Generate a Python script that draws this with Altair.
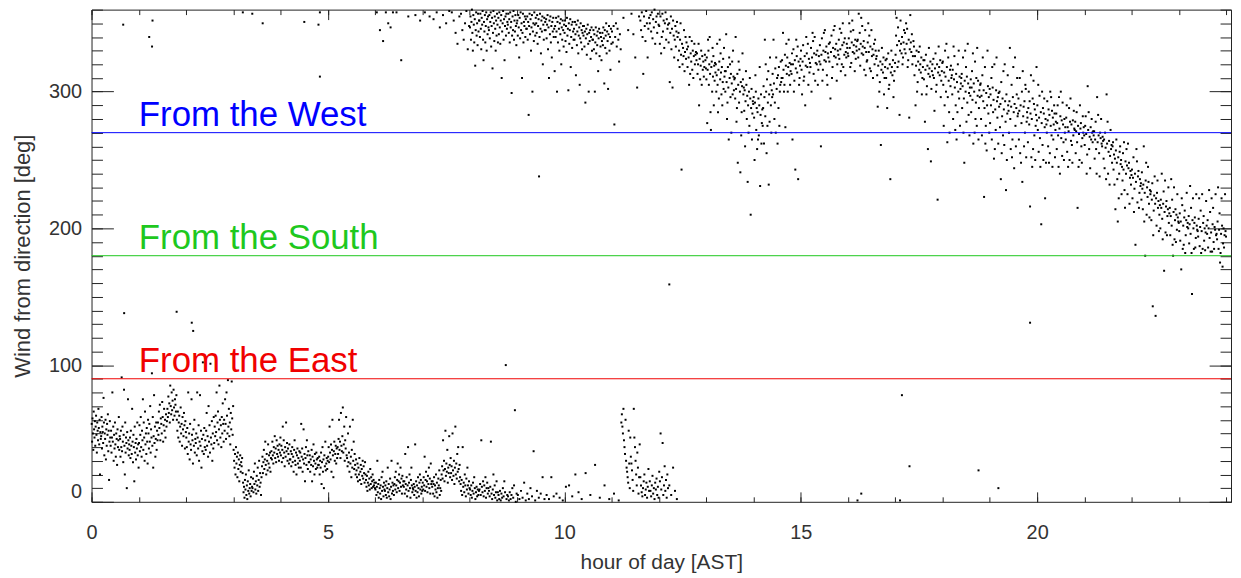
import altair as alt
import pandas as pd

# ---------------------------------------------------------------
# Data.  Each inner list holds the wind
# directions (deg) seen in one 0.2-hour slice of the day; the
# samples of a slice are taken as evenly spaced in time inside it.
# ---------------------------------------------------------------
BIN_HOURS = 0.2

# lower band (easterly / north-easterly winds), slices from 0.0 h
bottom_00_06 = [
    [57, 44, 61, 50, 38, 66, 53, 47, 59, 41, 55, 63, 49, 36, 58, 52, 45, 68, 54, 42, 60, 20, 51, 46],
    [48, 62, 39, 55, 51, 43, 76, 58, 34, 50, 46, 60, 31, 53, 41, 57, 49, 64, 37, 52, 16, 44, 59, 47],
    [41, 52, 36, 47, 80, 44, 55, 30, 49, 39, 58, 42, 33, 50, 46, 27, 53, 40, 45, 62, 38, 48],
    [46, 33, 52, 40, 91, 37, 55, 44, 29, 49, 82, 41, 20, 58, 36, 47, 43, 10, 51, 39, 75, 45, 34, 42],
    [38, 47, 32, 52, 41, 35, 68, 44, 29, 49, 40, 15, 55, 36, 43, 31, 46, 39, 58, 34, 42, 25],
    [43, 56, 37, 49, 62, 40, 33, 52, 45, 75, 38, 58, 47, 30, 66, 42, 50, 35, 54, 44, 28, 60],
    [50, 39, 57, 44, 70, 36, 53, 47, 94, 41, 62, 25, 48, 78, 43, 55, 33, 46, 58, 38, 52, 45],
    [58, 49, 66, 54, 71, 45, 61, 57, 50, 73, 62, 44, 56, 68, 52, 60, 47, 64, 55, 59],
    [68, 62, 77, 65, 72, 58, 85, 70, 64, 80, 67, 74, 60, 82, 69, 63, 75, 71, 66, 78],
    [60, 52, 66, 47, 58, 63, 44, 55, 69, 50, 57, 41, 62, 53, 48, 65, 56, 39, 59, 51],
    [47, 40, 54, 35, 80, 44, 50, 31, 57, 42, 38, 75, 49, 45, 28, 53, 41, 60, 36, 46],
    [43, 50, 34, 80, 47, 39, 56, 30, 44, 78, 41, 52, 25, 46, 37, 102, 49, 35, 54, 40],
    [45, 38, 52, 65, 41, 48, 33, 70, 44, 56, 36, 101, 47, 42, 59, 30, 50, 39, 62, 43],
    [55, 48, 63, 51, 80, 45, 58, 66, 42, 53, 85, 60, 47, 56, 40, 62, 50, 72, 57, 44],
    [60, 52, 75, 57, 46, 80, 63, 50, 89, 55, 68, 48, 58, 42, 65, 53, 88, 61, 49, 70],
    [38, 30, 25, 35, 20, 40, 28, 33, 18, 36, 24, 31, 15, 27, 34, 22, 29, 26, 32, 21],
    [14, 7, 11, 3, 16, 9, 20, 5, 12, 2, 15, 8, 23, 6, 10, 13, 4, 18, 8, 11],
    [10, 17, 7, 22, 13, 28, 9, 15, 6, 19, 12, 25, 8, 16, 30, 11, 21, 14, 5, 18],
    [26, 33, 21, 29, 38, 24, 31, 44, 27, 20, 35, 30, 23, 42, 28, 34, 25, 36, 22, 32],
    [37, 31, 44, 34, 28, 40, 36, 48, 32, 39, 29, 45, 35, 41, 33, 38, 30, 42, 36, 47],
    [34, 41, 29, 38, 55, 32, 45, 36, 26, 40, 33, 58, 37, 43, 30, 39, 35, 28, 42, 31],
    [31, 37, 26, 35, 40, 29, 33, 22, 38, 45, 30, 27, 36, 20, 34, 39, 28, 32, 25, 37],
    [30, 36, 25, 57, 33, 39, 22, 31, 53, 28, 35, 15, 32, 40, 27, 45, 34, 24, 37, 29],
    [29, 34, 22, 31, 27, 38, 15, 33, 26, 42, 30, 20, 35, 28, 24, 36, 31, 25, 32, 27],
    [27, 33, 20, 30, 25, 36, 13, 29, 40, 22, 31, 10, 34, 26, 44, 23, 28, 32, 24, 30],
    [33, 40, 29, 55, 36, 31, 42, 22, 38, 60, 34, 18, 37, 44, 30, 35, 41, 28, 39, 32],
    [40, 35, 46, 60, 38, 44, 32, 65, 41, 37, 48, 69, 36, 42, 55, 30, 45, 39, 62, 34],
    [32, 26, 50, 29, 36, 22, 55, 28, 33, 18, 38, 25, 60, 30, 44, 24, 35, 27, 20, 31],
    [23, 18, 28, 15, 25, 20, 32, 16, 22, 27, 13, 24, 19, 30, 17, 26, 21, 14, 29, 20],
    [16, 11, 19, 8, 14, 22, 12, 17, 9, 24, 13, 18, 10, 15, 20, 11, 16, 12, 14, 10],
]

# lower band, slices from 6.0 h
bottom_06_12 = [
    [9, 14, 5, 11, 30, 7, 13, 3, 16, 10, 6, 12, 2, 18, 8, 22, 11, 4, 14, 9],
    [8, 12, 5, 15, 3, 10, 25, 7, 13, 4, 9, 17, 2, 11, 30, 6, 14, 8, 12, 5],
    [13, 18, 9, 22, 12, 7, 16, 28, 10, 15, 20, 8, 14, 25, 11, 17, 6, 19, 12, 15],
    [11, 15, 6, 35, 13, 9, 18, 4, 12, 40, 8, 14, 20, 10, 3, 16, 25, 12, 7, 10],
    [9, 13, 5, 11, 42, 8, 15, 3, 12, 7, 18, 10, 4, 14, 20, 9, 16, 6, 11, 8],
    [14, 9, 18, 12, 33, 8, 16, 22, 11, 15, 7, 19, 13, 25, 10, 17, 6, 28, 13, 15],
    [11, 15, 6, 13, 18, 4, 12, 9, 20, 7, 14, 3, 10, 17, 12, 23, 5, 10, 16, 8],
    [20, 26, 17, 45, 23, 30, 15, 24, 52, 19, 28, 22, 38, 14, 25, 21, 48, 27, 18, 32],
    [21, 26, 16, 50, 23, 19, 30, 13, 25, 55, 20, 28, 17, 35, 22, 40, 24, 15, 27, 18],
    [13, 8, 16, 5, 40, 11, 14, 7, 20, 12, 4, 17, 9, 25, 12, 6, 15, 10],
    [9, 5, 12, 3, 8, 14, 6, 18, 10, 2, 7, 11, 4, 9, 5, 8],
    [9, 13, 5, 45, 11, 7, 15, 4, 12, 8, 18, 3, 10, 14, 6, 10],
    [8, 4, 11, 44, 6, 2, 9, 20, 5, 12, 3, 7, 15, 1, 7],
    [5, 2, 8, 1, 6, 3, 10, 4, 15, 7, 100, 2, 5],
    [4, 1, 7, 2, 5, 10, 3, 12, 67, 0, 6],
    [5, 2, 8, 3, 14, 1],
    [6, 2, 10, 4, 37, 1],
    [8, 3, 6, 18, 2],
    [5, 2, 18, 4],
    [6, 3, 1],
    [11, 12, 4],
    [20, 7, 2],
    [21, 5],
    [27, 3],
    [12, 2],
    [6, 1],
    [58, 64, 55, 50, 68, 45, 40, 35, 60, 30, 25, 22, 18, 14, 52, 28, 10, 47],
    [33, 28, 23, 16, 8, 68, 47, 40, 30, 20, 12, 36, 25, 6, 18, 42],
    [18, 12, 7, 4, 10, 15, 20, 5, 9, 14, 3, 11, 24, 8],
    [15, 8, 4, 12, 19, 6, 10, 2, 14, 9, 17, 5, 11, 3],
    [22, 15, 50, 9, 18, 43, 5, 12, 26, 8, 16, 3, 20, 10],
    [12, 5, 25, 8, 2],
]

# upper band (northerly to westerly winds), slices from 6.0 h
top_06_12 = [
    [358, 345, 337],
    [358, 350, 347, 358],
    [358, 323],
    [355],
    [356, 352],
    [358, 355],
    [353, 358, 347],
    [356, 350, 359],
    [358, 352, 343, 335, 355],
    [357, 345, 338, 350, 359, 331, 348],
    [347, 355, 338, 351, 360, 343, 330, 356, 349, 336, 353, 319, 345, 358, 341, 350, 334, 357, 344, 352],
    [352, 340, 357, 346, 331, 354, 349, 359, 338, 323, 351, 344, 356, 336, 348, 358, 330, 353, 342, 355, 347],
    [345, 356, 339, 351, 358, 333, 348, 354, 317, 343, 359, 350, 337, 355, 346, 330, 352, 341, 357, 349, 336],
    [354, 342, 358, 347, 335, 352, 356, 310, 344, 350, 359, 338, 353, 323, 348, 355, 341, 357, 346, 351],
    [349, 357, 343, 353, 336, 358, 347, 351, 299, 341, 355, 345, 359, 338, 352, 344, 356, 348, 334, 350],
    [352, 341, 356, 347, 325, 354, 339, 358, 345, 350, 310, 343, 357, 336, 351, 348, 355, 340, 353, 346],
    [346, 355, 338, 351, 283, 348, 357, 342, 353, 330, 347, 356, 300, 344, 350, 337, 358, 349, 341, 354],
    [350, 343, 356, 335, 348, 353, 238, 340, 357, 346, 328, 352, 344, 355, 320, 349, 338, 354, 345, 351],
    [345, 353, 339, 349, 356, 331, 347, 310, 352, 342, 355, 336, 348, 325, 351, 344, 354, 340, 346, 315],
    [348, 340, 354, 344, 300, 351, 336, 355, 346, 330, 350, 342, 353, 320, 347, 338, 352, 345, 333, 349],
    [343, 352, 337, 348, 329, 354, 341, 346, 301, 350, 335, 345, 353, 318, 340, 349, 332, 351, 344, 338],
    [346, 338, 351, 342, 312, 349, 334, 344, 352, 328, 341, 347, 305, 339, 350, 336, 345, 331, 343, 348],
    [341, 348, 333, 344, 292, 339, 346, 327, 342, 349, 335, 300, 343, 337, 345, 324, 340, 347, 330, 338],
    [338, 345, 331, 342, 300, 336, 347, 328, 341, 334, 344, 315, 339, 346, 326, 343, 333, 340, 323, 337],
    [343, 334, 347, 339, 306, 345, 332, 341, 350, 328, 344, 337, 302, 342, 348, 330, 340, 316, 346, 335],
    [344, 336, 348, 276, 340, 350, 333, 346, 338, 322, 342, 331],
    [354, 345],
    [357, 342, 325, 303, 355],
    [352, 345, 358, 340, 313, 355, 348, 337, 359, 350, 325, 346, 354],
    [350, 356, 344, 358, 339, 353, 347, 360, 335, 351, 355, 343, 357, 349],
]

# upper band, slices from 12.0 h
top_12_18 = [
    [348, 335, 355, 328, 340, 357, 344, 352, 332, 350, 358, 338, 353, 346, 349],
    [336, 350, 307, 343, 355, 331, 346, 303, 352, 341, 325, 338, 348, 333, 344, 351, 340],
    [323, 343, 330, 318, 338, 350, 327, 243, 335, 320, 332, 326, 345, 315, 329, 340, 324, 336, 331],
    [318, 333, 325, 305, 340, 313, 328, 322, 337, 316, 330, 310, 326, 335, 320, 327, 329, 323],
    [328, 313, 320, 335, 290, 324, 309, 319, 330, 305, 326, 316, 322, 311, 318, 327, 323, 317],
    [309, 325, 277, 316, 338, 330, 305, 320, 340, 313, 285, 272, 318, 322, 300, 332, 311, 326, 290, 319, 308, 321, 314],
    [320, 300, 312, 335, 305, 285, 316, 295, 322, 338, 309, 328, 314, 298, 318, 290, 307, 324, 302, 332, 311, 315],
    [300, 315, 342, 307, 280, 292, 318, 303, 265, 325, 310, 320, 296, 313, 270, 306, 322, 298, 330, 311, 301, 309],
    [310, 295, 340, 302, 278, 288, 313, 248, 305, 322, 292, 316, 300, 241, 307, 268, 285, 304, 328, 309, 298, 303],
    [286, 301, 260, 293, 315, 305, 280, 297, 234, 290, 270, 300, 275, 310, 295, 210, 288, 302, 265, 284, 293, 291],
    [296, 281, 250, 292, 312, 300, 272, 288, 258, 285, 265, 295, 268, 290, 318, 231, 283, 298, 262, 277, 287, 275],
    [288, 304, 262, 296, 338, 282, 320, 300, 255, 309, 275, 292, 315, 232, 298, 278, 325, 305, 290, 270, 301, 296],
    [313, 298, 338, 306, 280, 292, 317, 270, 325, 302, 310, 262, 312, 288, 318, 275, 300, 305, 322, 307, 310],
    [323, 310, 343, 316, 300, 305, 327, 274, 319, 335, 313, 325, 300, 318, 338, 312, 321, 305, 315, 320],
    [313, 328, 265, 320, 331, 300, 308, 323, 243, 317, 338, 326, 314, 333, 236, 322, 305, 310, 319, 324],
    [330, 316, 298, 322, 334, 308, 311, 326, 290, 319, 340, 328, 318, 335, 305, 324, 314, 321],
    [318, 332, 300, 325, 343, 337, 313, 328, 340, 308, 321, 327, 320, 330, 305, 316, 326, 322],
    [334, 320, 260, 327, 339, 308, 316, 330, 343, 323, 345, 329, 322, 333, 312, 305, 328, 325, 335],
    [322, 336, 295, 329, 341, 310, 318, 332, 345, 326, 348, 331, 325, 335, 308, 320, 330, 327],
    [338, 324, 346, 331, 315, 343, 320, 334, 350, 318, 336, 327, 339, 312, 329, 325, 335, 332, 328],
    [326, 339, 350, 332, 318, 344, 321, 336, 352, 329, 345, 334, 328, 315, 338, 324, 333, 330, 337],
    [338, 325, 357, 331, 343, 319, 335, 354, 328, 348, 333, 327, 337, 316, 332, 345, 312, 329, 322],
    [323, 336, 350, 329, 341, 317, 333, 315, 345, 326, 331, 310, 327, 335, 320, 338, 330, 324],
    [326, 312, 289, 319, 330, 300, 307, 322, 261, 316, 332, 320, 314, 325, 298, 310, 318, 323],
    [310, 324, 288, 317, 328, 302, 305, 320, 236, 314, 330, 318, 312, 323, 296, 308, 315, 321],
    [327, 341, 354, 334, 318, 347, 322, 337, 283, 330, 352, 335, 328, 340, 320, 325, 336, 345, 331],
    [343, 328, 350, 335, 346, 318, 323, 338, 281, 331, 356, 336, 329, 342, 320, 326, 337, 333],
    [312, 326, 290, 319, 330, 300, 307, 322, 329, 316, 333, 320, 314, 325, 298, 310, 318, 323],
    [309, 323, 278, 316, 327, 298, 304, 319, 258, 313, 332, 317, 311, 322, 249, 302, 315, 320, 312],
    [324, 310, 286, 317, 328, 300, 305, 320, 221, 314, 333, 318, 312, 323, 296, 308, 315, 321],
]

# upper band, slices from 18.0 h
top_18_24 = [
    [322, 305, 275, 314, 290, 330, 311, 300, 335, 318, 263, 296, 325, 308, 285, 270, 316, 304, 319, 310, 312],
    [298, 316, 280, 333, 309, 326, 303, 272, 290, 313, 265, 307, 285, 320, 300, 330, 295, 311, 275, 302, 306, 310],
    [313, 288, 304, 325, 270, 295, 248, 308, 330, 300, 318, 278, 311, 292, 335, 306, 283, 299, 268, 303, 297, 309],
    [285, 303, 315, 294, 328, 262, 306, 300, 270, 322, 280, 292, 310, 275, 332, 297, 308, 265, 288, 301, 296, 305],
    [306, 280, 297, 268, 312, 325, 293, 301, 223, 288, 318, 262, 275, 299, 257, 290, 330, 304, 284, 296, 270, 302],
    [277, 298, 290, 310, 265, 318, 303, 285, 294, 251, 320, 258, 287, 272, 301, 325, 293, 281, 296, 262, 299, 289],
    [300, 274, 291, 236, 307, 255, 282, 295, 268, 315, 287, 261, 320, 293, 278, 228, 298, 250, 284, 312, 290, 286],
    [270, 293, 332, 280, 258, 289, 305, 252, 265, 296, 318, 285, 244, 291, 325, 275, 260, 288, 298, 310, 282, 284],
    [295, 265, 286, 310, 255, 290, 248, 277, 300, 234, 315, 282, 289, 260, 293, 270, 305, 302, 252, 278, 285, 281],
    [263, 288, 300, 276, 293, 216, 284, 312, 252, 280, 245, 295, 258, 308, 291, 268, 287, 250, 275, 283, 318, 279],
    [290, 272, 305, 256, 281, 297, 266, 245, 285, 203, 277, 300, 261, 288, 250, 284, 295, 274, 222, 280, 248, 276],
    [270, 293, 279, 260, 287, 248, 283, 255, 300, 275, 296, 268, 286, 245, 281, 265, 276, 290, 284, 252, 272, 278],
    [284, 258, 277, 290, 268, 245, 296, 273, 240, 282, 300, 266, 279, 253, 292, 276, 263, 250, 280, 270, 274],
    [265, 281, 290, 256, 274, 245, 271, 288, 250, 278, 295, 264, 276, 261, 248, 279, 268, 286, 273, 272],
    [278, 255, 271, 285, 263, 215, 275, 245, 269, 250, 290, 273, 277, 260, 248, 266, 282, 270, 274, 268],
    [261, 275, 282, 269, 240, 254, 304, 272, 285, 258, 267, 244, 274, 265, 280, 270, 263, 271, 268],
    [271, 251, 265, 278, 258, 240, 296, 263, 283, 268, 255, 238, 270, 266, 280, 262, 260, 267, 264],
    [251, 265, 244, 270, 259, 236, 298, 262, 278, 240, 256, 264, 232, 253, 272, 258, 261, 248, 260],
    [263, 243, 254, 232, 251, 214, 257, 265, 248, 236, 205, 252, 222, 240, 256, 260, 247, 250, 225, 245],
    [235, 255, 243, 263, 228, 215, 249, 240, 258, 246, 225, 262, 244, 248, 218, 237, 242, 232, 239],
    [243, 222, 237, 252, 212, 229, 240, 188, 234, 258, 249, 219, 238, 242, 215, 226, 236, 231, 233],
    [221, 241, 229, 214, 232, 260, 205, 226, 180, 235, 248, 210, 230, 223, 245, 234, 218, 208, 228, 225],
    [227, 206, 221, 233, 143, 195, 213, 224, 238, 218, 136, 222, 202, 226, 235, 215, 220, 198, 210, 217],
    [200, 221, 215, 240, 207, 192, 218, 227, 169, 212, 235, 197, 216, 220, 195, 209, 214, 230, 204, 211],
    [215, 195, 209, 236, 202, 221, 188, 180, 212, 230, 192, 206, 214, 190, 210, 199, 225, 208, 205, 204],
    [198, 211, 191, 205, 170, 222, 217, 185, 202, 188, 208, 213, 182, 195, 206, 226, 201, 204, 200],
    [209, 189, 203, 231, 196, 215, 182, 152, 206, 222, 200, 185, 204, 208, 186, 193, 225, 202, 199, 198],
    [194, 207, 222, 187, 201, 213, 182, 198, 225, 185, 204, 209, 191, 200, 184, 197, 220, 202, 196],
    [206, 186, 200, 228, 193, 212, 183, 197, 222, 183, 203, 215, 190, 185, 201, 199, 225, 195, 196],
    [192, 205, 230, 185, 199, 211, 175, 182, 196, 222, 202, 172, 189, 200, 186, 195, 225, 198, 194],
]

# isolated samples read individually
outlier_hour = [0.69, 1.80, 2.12, 2.15, 12.22, 17.14, 17.30, 18.76, 19.18, 16.28,
                16.20, 17.10, 19.85, 0.67, 1.29, 1.22, 1.28, 3.20, 3.40, 3.62,
                4.50, 4.80, 4.83, 4.83]
outlier_deg = [138, 139, 131, 125, 159, 78, 26, 23, 10, 6,
               1, 1, 131, 349, 352, 340, 333, 358, 357, 350,
               351, 349, 358, 311]

# reference directions
line_names = ["From the West", "From the South", "From the East"]
line_deg = [270, 180, 90]
line_colors = ["#0000ff", "#1ec81e", "#f00000"]
label_hour = 1.0

# axis ranges and ticks
x_domain = [0, 24.1]
y_domain = [0, 360]
x_major = [0, 5, 10, 15, 20]
x_minor = list(range(0, 25))
y_major = [0, 100, 200, 300]
y_minor = list(range(0, 361, 10))

FONT = "Liberation Sans"
INK = "#222222"
TEXT = "#333333"


def expand(bins, start):
    rows = []
    for i, vals in enumerate(bins):
        t0 = start + i * BIN_HOURS
        n = len(vals)
        for j, v in enumerate(vals):
            rows.append({"hour": t0 + (j + 0.5) * BIN_HOURS / n, "deg": v})
    return rows


rows = (expand(bottom_00_06, 0.0) + expand(bottom_06_12, 6.0)
        + expand(top_06_12, 6.0) + expand(top_12_18, 12.0) + expand(top_18_24, 18.0))
rows += [{"hour": h, "deg": d} for h, d in zip(outlier_hour, outlier_deg)]
points_df = pd.DataFrame(rows)

lines_df = pd.DataFrame({
    "name": line_names,
    "deg": line_deg,
    "x0": [x_domain[0]] * 3,
    "x1": [x_domain[1]] * 3,
    "tx": [label_hour] * 3,
})

xs = alt.Scale(domain=x_domain, nice=False, zero=False)
ys = alt.Scale(domain=y_domain, nice=False, zero=False)


def tick_axis(orient, values, size):
    return alt.Axis(orient=orient, values=values, offset=-size, tickSize=size,
                    ticks=True, labels=False, domain=False, grid=False,
                    title=None, tickColor=INK, tickWidth=1)


x_label_axis = alt.Axis(orient="bottom", values=x_major, ticks=False, tickSize=0,
                        domain=False, grid=False, labelFlush=False, labelPadding=21,
                        labelFontSize=20, labelColor=TEXT, labelFont=FONT,
                        title="hour of day [AST]", titleFontSize=21, titleColor=TEXT,
                        titleFont=FONT, titleFontWeight="normal", titlePadding=9)
y_label_axis = alt.Axis(orient="left", values=y_major, ticks=False, tickSize=0,
                        domain=False, grid=False, labelFlush=True, labelPadding=10,
                        labelFontSize=20, labelColor=TEXT, labelFont=FONT,
                        title="Wind from direction [deg]", titleFontSize=22,
                        titleColor=TEXT, titleFont=FONT, titleFontWeight="normal",
                        titlePadding=14)

points = alt.Chart(points_df).mark_square(size=4, color="black", opacity=1).encode(
    x=alt.X("hour:Q", scale=xs, axis=x_label_axis),
    y=alt.Y("deg:Q", scale=ys, axis=y_label_axis),
)

axis_pairs = [
    (tick_axis("bottom", x_minor, 5), tick_axis("left", y_minor, 11)),
    (tick_axis("bottom", x_major, 10), tick_axis("left", y_major, 22)),
    (tick_axis("top", x_minor, 5), tick_axis("right", y_minor, 11)),
]

layers = [points]
for i in range(3):
    ax_x, ax_y = axis_pairs[i]
    layers.append(
        alt.Chart(lines_df.iloc[[i]]).mark_rule(color=line_colors[i], strokeWidth=1).encode(
            x=alt.X("x0:Q", scale=xs, axis=ax_x),
            x2="x1:Q",
            y=alt.Y("deg:Q", scale=ys, axis=ax_y),
        )
    )

text_axes = [
    (tick_axis("top", x_major, 10), tick_axis("right", y_major, 22)),
    (None, None),
    (None, None),
]
for i in range(3):
    ax_x, ax_y = text_axes[i]
    xenc = alt.X("tx:Q", scale=xs, axis=ax_x) if ax_x is not None else alt.X("tx:Q", scale=xs, axis=None)
    yenc = alt.Y("deg:Q", scale=ys, axis=ax_y) if ax_y is not None else alt.Y("deg:Q", scale=ys, axis=None)
    layers.append(
        alt.Chart(lines_df.iloc[[i]]).mark_text(
            align="left", baseline="alphabetic", dy=-7, fontSize=35,
            font=FONT, color=line_colors[i]
        ).encode(x=xenc, y=yenc, text="name:N")
    )

chart = alt.layer(*layers).resolve_axis(x="independent", y="independent").properties(
    width=1146,
    height=495,
    autosize=alt.AutoSizeParams(type="none"),
    padding={"left": 84, "top": 0, "right": 2, "bottom": 76},
).configure_view(stroke=INK, strokeWidth=1).configure_axis(grid=False)

chart.save("out.html", embed_options={"renderer": "svg", "actions": False})
